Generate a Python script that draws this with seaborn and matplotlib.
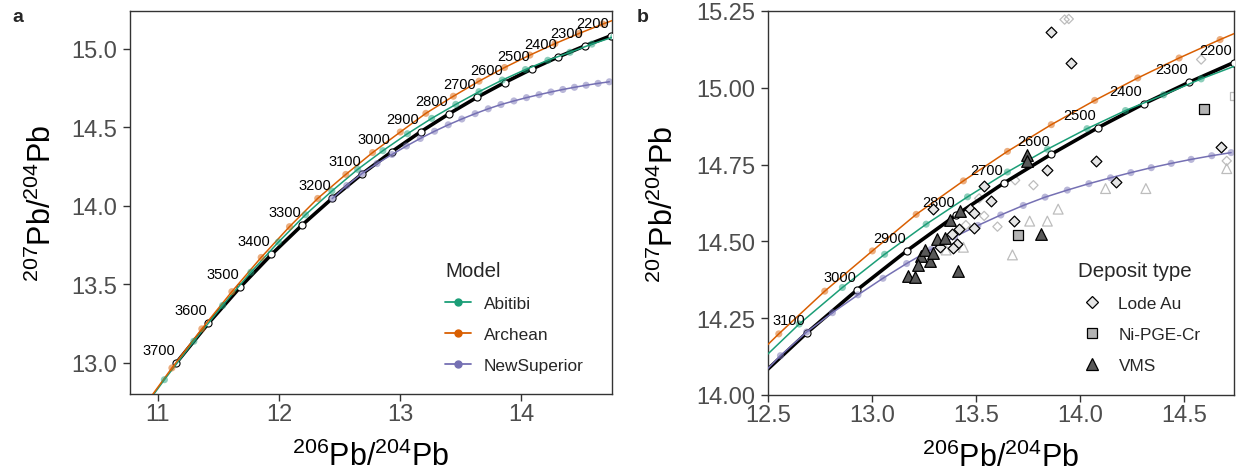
import matplotlib
matplotlib.use("Agg")
import matplotlib.pyplot as plt
from matplotlib.lines import Line2D
import numpy as np
import pandas as pd
import seaborn as sns

# Stacey & Kramers second-stage growth curve, nodes every 100 Myr
sk_age = [3700, 3600, 3500, 3400, 3300, 3200, 3100, 3000,
          2900, 2800, 2700, 2600, 2500, 2400, 2300, 2200]
sk_206 = [11.152, 11.418, 11.680, 11.938, 12.192, 12.442, 12.688, 12.930,
          13.169, 13.404, 13.635, 13.863, 14.087, 14.308, 14.526, 14.740]
sk_207 = [12.998, 13.251, 13.481, 13.689, 13.877, 14.048, 14.203, 14.343,
          14.470, 14.585, 14.690, 14.784, 14.870, 14.948, 15.018, 15.082]

# Regional lead-evolution models
abitibi_206 = [10.806, 11.054, 11.297, 11.535, 11.768, 11.996, 12.219, 12.437,
               12.650, 12.858, 13.061, 13.261, 13.460, 13.652, 13.844, 14.035,
               14.220, 14.403, 14.584, 14.762]
abitibi_207 = [12.629, 12.891, 13.136, 13.364, 13.576, 13.768, 13.942, 14.093,
               14.231, 14.350, 14.458, 14.556, 14.645, 14.726, 14.800, 14.867,
               14.926, 14.977, 15.029, 15.075]

archean_206 = [10.870, 11.116, 11.363, 11.611, 11.853, 12.087, 12.320, 12.552,
               12.773, 13.002, 13.213, 13.440, 13.652, 13.863, 14.072, 14.279,
               14.478, 14.675, 14.870]
archean_207 = [12.705, 12.966, 13.215, 13.452, 13.670, 13.866, 14.046, 14.199,
               14.338, 14.469, 14.588, 14.697, 14.793, 14.880, 14.959, 15.032,
               15.097, 15.157, 15.213]

newsup_206 = [12.440, 12.560, 12.686, 12.810, 12.933, 13.053, 13.167, 13.285,
              13.398, 13.510, 13.620, 13.728, 13.833, 13.940, 14.044, 14.148,
              14.246, 14.344, 14.440, 14.536, 14.635, 14.728]
newsup_207 = [14.045, 14.128, 14.205, 14.268, 14.326, 14.380, 14.428, 14.474,
              14.515, 14.552, 14.586, 14.617, 14.644, 14.667, 14.688, 14.707,
              14.724, 14.740, 14.754, 14.767, 14.779, 14.789]

model_names = ["Abitibi", "Archean", "NewSuperior"]
model_colors = ["#1B9E77", "#D95F02", "#7570B3"]

# Ore deposit lead isotope compositions
lode_206 = [13.863, 13.956, 14.079, 13.840, 14.175, 13.540, 14.680, 13.572, 13.292,
            13.684, 13.472, 13.489, 13.489, 13.417, 13.385, 13.409, 13.388, 13.329]
lode_207 = [15.181, 15.080, 14.761, 14.734, 14.694, 14.680, 14.808, 14.632, 14.604,
            14.568, 14.607, 14.591, 14.545, 14.539, 14.524, 14.490, 14.480, 14.481]
ni_206 = [14.600, 13.705]
ni_207 = [14.930, 14.520]
vms_206 = [13.748, 13.748, 13.423, 13.377, 13.311, 13.352, 13.237, 13.279,
           13.257, 13.296, 13.220, 13.173, 13.207, 13.414, 13.812]
vms_207 = [14.780, 14.762, 14.600, 14.570, 14.508, 14.511, 14.451, 14.435,
           14.471, 14.461, 14.422, 14.386, 14.383, 14.404, 14.523]

# Background analyses (outside the studied deposits)
bg_lode_206 = [13.927, 13.947, 14.584, 14.707, 13.689, 13.777, 13.604, 13.540, 13.516, 13.452]
bg_lode_207 = [15.222, 15.224, 15.092, 14.762, 14.699, 14.683, 14.548, 14.583, 14.640, 14.553]
bg_vms_206 = [14.707, 14.124, 14.318, 13.896, 13.759, 13.844, 13.676, 13.440, 13.357]
bg_vms_207 = [14.737, 14.672, 14.672, 14.605, 14.566, 14.566, 14.456, 14.481, 14.472]
bg_ni_206 = [14.739]
bg_ni_207 = [14.973]

deposit_types = ["Lode Au", "Ni-PGE-Cr", "VMS"]
deposit_markers = ["D", "s", "^"]
deposit_fills = ["#E6E6E6", "#B3B3B3", "#595959"]
deposit_sizes = [30, 42, 70]

# ---------------------------------------------------------------------------
sns.set_theme(style="ticks")
plt.rcParams["font.family"] = ["Liberation Sans", "DejaVu Sans"]
plt.rcParams["mathtext.fontset"] = "custom"
plt.rcParams["mathtext.rm"] = "Liberation Sans"
plt.rcParams["mathtext.it"] = "Liberation Sans:italic"
plt.rcParams["mathtext.bf"] = "Liberation Sans:bold"

sk_df = pd.DataFrame({"age": sk_age, "pb206": sk_206, "pb207": sk_207})
models_df = pd.concat([
    pd.DataFrame({"model": name, "pb206": x, "pb207": y})
    for name, x, y in zip(model_names,
                          [abitibi_206, archean_206, newsup_206],
                          [abitibi_207, archean_207, newsup_207])
], ignore_index=True)
palette = dict(zip(model_names, model_colors))

W, H = 1241, 477
fig = plt.figure(figsize=(W / 100, H / 100), dpi=100)
ax_a = fig.add_axes([130 / W, 1 - 395 / H, 482 / W, 383 / H])
ax_b = fig.add_axes([768 / W, 1 - 396 / H, 466 / W, 384 / H])

axis_color = "#333333"
tick_label_color = "#4D4D4D"


def draw_growth_curves(ax):
    sns.lineplot(data=sk_df, x="pb206", y="pb207", color="black", lw=2.6,
                 sort=False, estimator=None, ax=ax, zorder=2)
    sns.scatterplot(data=sk_df, x="pb206", y="pb207", color="white",
                    edgecolor="black", linewidth=0.8, s=26, ax=ax, zorder=3)
    sns.lineplot(data=models_df, x="pb206", y="pb207", hue="model",
                 palette=palette, lw=1.1, sort=False, estimator=None,
                 legend=False, ax=ax, zorder=4)
    sns.scatterplot(data=models_df, x="pb206", y="pb207", hue="model",
                    palette=palette, s=26, alpha=0.5, linewidth=0,
                    legend=False, ax=ax, zorder=5)
    for age, x, y in zip(sk_age, sk_206, sk_207):
        ax.annotate(str(age), xy=(x, y), xytext=(-1, 6.5),
                    textcoords="offset points", ha="right", va="baseline",
                    fontsize=10.5, color="black", zorder=6)


def style_axes(ax, ylabel_x):
    for sp in ax.spines.values():
        sp.set_visible(True)
        sp.set_color(axis_color)
        sp.set_linewidth(1.0)
    ax.tick_params(axis="both", direction="out", length=5, width=1.0,
                   color=axis_color, labelcolor=tick_label_color,
                   labelsize=17)
    ax.tick_params(axis="x", pad=1.5)
    ax.tick_params(axis="y", pad=4)
    ax.set_xlabel(r"$^{206}$Pb/$^{204}$Pb", fontsize=22, color="black",
                  labelpad=11)
    ax.set_ylabel(r"$^{207}$Pb/$^{204}$Pb", fontsize=22, color="black")
    ax.yaxis.set_label_coords(ylabel_x, 0.5)
    ax.grid(False)


# Panel a: model growth curves
draw_growth_curves(ax_a)
ax_a.set_xlim(10.77, 14.75)
ax_a.set_ylim(12.80, 15.24)
ax_a.set_xticks([11, 12, 13, 14])
ax_a.set_xticklabels(["11", "12", "13", "14"])
ax_a.set_yticks([13.0, 13.5, 14.0, 14.5, 15.0])
ax_a.set_yticklabels([f"{v:.1f}" for v in [13.0, 13.5, 14.0, 14.5, 15.0]])
style_axes(ax_a, -0.150)

model_handles = [Line2D([0], [0], color=c, lw=1.3, marker="o", markersize=5)
                 for c in model_colors]
leg_a = ax_a.legend(model_handles, model_names, title="Model",
                    loc="upper left", bbox_to_anchor=(445 / W, 1 - 262 / H),
                    bbox_transform=fig.transFigure, frameon=False,
                    fontsize=12.4, title_fontsize=14.8, alignment="left",
                    handlelength=1.5, handletextpad=0.75, labelspacing=0.92,
                    borderpad=0, borderaxespad=0)

# Panel b: deposits against growth curves
draw_growth_curves(ax_b)
sns.scatterplot(x=bg_lode_206, y=bg_lode_207, marker="D", s=22, color="none",
                edgecolor="#BDBDBD", linewidth=0.9, ax=ax_b, zorder=1)
sns.scatterplot(x=bg_vms_206, y=bg_vms_207, marker="^", s=50, color="none",
                edgecolor="#BDBDBD", linewidth=0.9, ax=ax_b, zorder=1)
sns.scatterplot(x=bg_ni_206, y=bg_ni_207, marker="s", s=28, color="none",
                edgecolor="#BDBDBD", linewidth=0.9, ax=ax_b, zorder=1)
for xs, ys, mk, fc, sz in zip([lode_206, ni_206, vms_206],
                              [lode_207, ni_207, vms_207],
                              deposit_markers, deposit_fills, deposit_sizes):
    sns.scatterplot(x=xs, y=ys, marker=mk, s=sz, color=fc, edgecolor="black",
                    linewidth=0.9, ax=ax_b, zorder=7)

ax_b.set_xlim(12.5, 14.742)
ax_b.set_ylim(14.0, 15.25)
xt_b = [12.5, 13.0, 13.5, 14.0, 14.5]
yt_b = [14.00, 14.25, 14.50, 14.75, 15.00, 15.25]
ax_b.set_xticks(xt_b)
ax_b.set_xticklabels([f"{v:.1f}" for v in xt_b])
ax_b.set_yticks(yt_b)
ax_b.set_yticklabels([f"{v:.2f}" for v in yt_b])
style_axes(ax_b, -0.188)

deposit_handles = [Line2D([0], [0], lw=0, marker=mk, markersize=ms,
                          markerfacecolor=fc, markeredgecolor="black",
                          markeredgewidth=0.9)
                   for mk, fc, ms in zip(deposit_markers, deposit_fills, [6, 7, 9])]
leg_b = ax_b.legend(deposit_handles, deposit_types, title="Deposit type",
                    loc="upper left", bbox_to_anchor=(1078 / W, 1 - 262 / H),
                    bbox_transform=fig.transFigure, frameon=False,
                    fontsize=12.4, title_fontsize=14.8, alignment="left",
                    handlelength=1.6, handletextpad=0.75, labelspacing=0.92,
                    borderpad=0, borderaxespad=0)

# Panel tags
fig.text(12 / W, 1 - 22 / H, "a", fontsize=14, fontweight="bold", va="baseline")
fig.text(637 / W, 1 - 22 / H, "b", fontsize=14, fontweight="bold", va="baseline")

fig.savefig("out.png", dpi=100)
